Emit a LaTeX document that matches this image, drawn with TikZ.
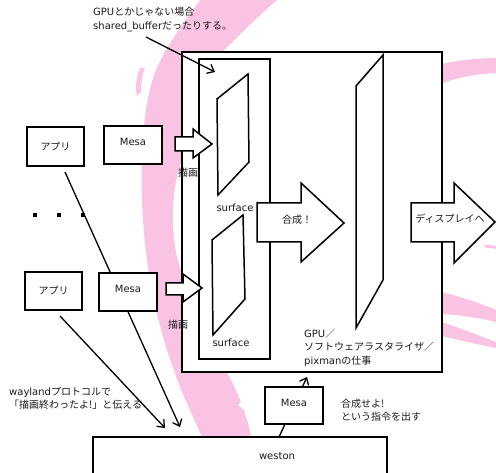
\documentclass[tikz,border=0pt]{standalone}
\usepackage{fontspec}
\setmainfont{DejaVu Sans}
\newfontfamily\jp{Noto Sans CJK JP}
\usetikzlibrary{arrows.meta}
\definecolor{swirl}{RGB}{250,195,228}
\begin{document}
\begin{tikzpicture}[x=1pt,y=-1pt,
  every node/.style={font=\fontsize{10}{13.5}\selectfont, text=black!90},
  box/.style={draw, line width=1.5pt, fill=white, inner sep=0pt},
  mesabox/.style={box, minimum width=58pt, minimum height=38pt, text height=7.3pt, text depth=6pt},
  appbox/.style={box, minimum width=57pt, minimum height=39pt},
  shapeline/.style={draw, line width=1.5pt, fill=white, line join=miter},
  txt/.style={anchor=west, align=left, inner sep=0pt},
  conn/.style={line width=1.3pt, -{Straight Barb[length=6pt,width=10pt]}},
  ]
\useasboundingbox (0,0) rectangle (496,473);
% pink swirl background
\fill[swirl] (200,0) .. controls (188,18) and (168,42) .. (156,70)
  .. controls (144,100) and (140,150) .. (142,200)
  .. controls (144,260) and (155,320) .. (175,373)
  .. controls (180,390) and (195,420) .. (203,440) -- (252,440)
  .. controls (248,420) and (240,395) .. (227,373) -- (200,300) -- (190,70) -- (205,60) -- (222,52)
  .. controls (230,45) and (245,28) .. (277,0) -- cycle;
\fill[swirl] (140,68) .. controls (136,78) and (135,88) .. (137,96) -- (141,92) .. controls (141,84) and (142,76) .. (145,68) -- cycle;
\fill[white] (182,160) .. controls (170,190) and (170,245) .. (182,272) -- cycle;
\fill[white] (243,400) -- (238,405) -- (244,410) -- cycle;
\fill[swirl] (441,64) .. controls (460,60) and (480,58) .. (496,58) -- (496,73) .. controls (475,74) and (455,78) .. (441,84) -- cycle;
\fill[swirl] (484,245) .. controls (488,245) and (492,245) .. (496,246) -- (496,249) .. controls (492,248) and (488,248) .. (486,248) -- cycle;
\fill[swirl] (441,292) .. controls (455,295) and (480,303) .. (496,310) -- (496,322) .. controls (480,318) and (460,315) .. (441,314) -- cycle;
\fill[swirl] (441,322) .. controls (455,326) and (480,336) .. (496,342) -- (496,348) .. controls (480,345) and (460,340) .. (441,336) -- cycle;

% connectors from the apps to weston
\coordinate (a1) at (65,172); \coordinate (w1) at (180,427);
\coordinate (a2) at (60,316); \coordinate (w2) at (165,428);
\draw[conn] (a1) -- (w1);
\draw[conn] (a2) -- (w2);

% client boxes
\node[appbox] (app1) at (55.5,146.5) {\jp アプリ};
\node[mesabox] (mesa1) at (133,145) {Mesa};
\node[appbox, minimum height=38pt] (app2) at (53.5,291) {\jp アプリ};
\node[mesabox] (mesa2) at (128,292) {Mesa};
\foreach \x in {35,59,83} \fill ({\x-2},213) rectangle ({\x+2},217);

% GPU box
\node[box, minimum width=260pt, minimum height=320pt] (gpu) at (312,212) {};
\node[box, minimum width=71pt, minimum height=300pt] (surfbox) at (234.5,209) {};
\draw[shapeline] (217,99) -- (248,74) -- (249,162) -- (218,195) -- cycle;
\draw[shapeline] (212,240) -- (243,215) -- (245,299) -- (213,335) -- cycle;
\draw[shapeline] (356,86) -- (383,55) -- (383,280) -- (356,328) -- cycle;
% block arrows
\draw[shapeline] (175,137) -- (193,137) -- (193,129) -- (212,144) -- (193,158) -- (193,151) -- (175,151) -- cycle;
\draw[shapeline] (166,283) -- (183,283) -- (183,274) -- (202,288) -- (183,302) -- (183,295) -- (166,295) -- cycle;
\draw[shapeline] (257,203) -- (301,203) -- (301,183) -- (344,223) -- (301,262) -- (301,242) -- (257,242) -- cycle;
\draw[shapeline] (411,203) -- (454,203) -- (454,183) -- (495,222) -- (454,263) -- (454,242) -- (411,242) -- cycle;

\node (draw1) at (188,173) {\jp 描画};
\node (draw2) at (178,325) {\jp 描画};
\node (surf1) at (235,208) {surface};
\node (surf2) at (231,343) {surface};
\node (gosei) at (297,220) {\jp 合成！};
\node (disp) at (450,219) {\jp ディスプレイへ};
\node[txt] (gputxt) at (304,347.5) {GPU{\jp ／}\\{\jp ソフトウェアラスタライザ／}\\pixman{\jp の仕事}};

% weston
\node[box, minimum width=294pt, minimum height=63pt] (weston) at (240,468.5) {};
\node (westonlbl) at (277,456) {weston};
\coordinate (ws) at (279,437); \coordinate (gb) at (307,377);
\draw[conn] (ws) -- (gb);
\node[mesabox, minimum height=37pt] (mesa3) at (294,405.5) {Mesa};

% texts
\node[txt] (title) at (93,19.5) {GPU{\jp とかじゃない場合}\\shared\_buffer{\jp だったりする。}};
\coordinate (t1) at (146,37); \coordinate (t2) at (215,72);
\draw[conn] (t1) -- (t2);
\node[txt] (wl) at (9,398.5) {wayland{\jp プロトコルで}\\{\jp 「描画終わったよ!」と伝える}};
\node[txt] (cmd) at (341,410) {{\jp 合成せよ!}\\{\jp という指令を出す}};
\end{tikzpicture}
\end{document}
